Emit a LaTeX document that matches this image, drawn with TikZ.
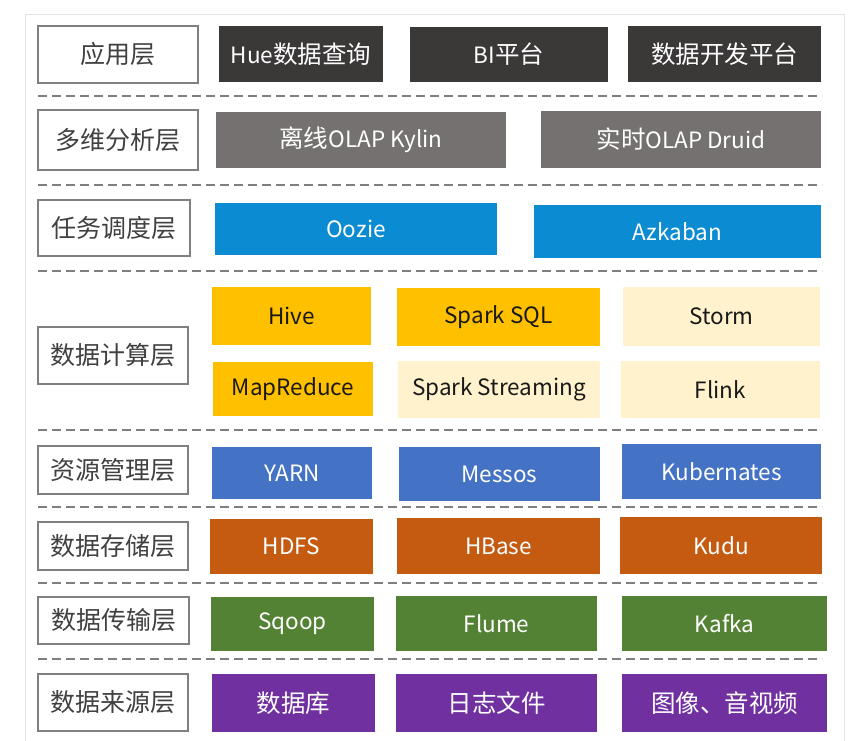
\documentclass[tikz,border=0pt]{standalone}
\usepackage{fontspec}
\setmainfont{Noto Sans CJK SC}
\definecolor{cdark}{HTML}{3B3838}
\definecolor{cgray}{HTML}{767171}
\definecolor{cblue}{HTML}{0A8BD2}
\definecolor{cgold}{HTML}{FFC000}
\definecolor{ccream}{HTML}{FFF2CC}
\definecolor{cmid}{HTML}{4472C4}
\definecolor{corange}{HTML}{C55A11}
\definecolor{cgreen}{HTML}{548235}
\definecolor{cpurple}{HTML}{7030A0}
\definecolor{lblgray}{HTML}{808080}
\definecolor{lbltext}{HTML}{404040}
\definecolor{dashgray}{HTML}{7F7F7F}
\definecolor{framegray}{HTML}{E3E3E3}
\newcommand\zhtxt[1]{{\fontsize{24.5}{28}\selectfont #1}}
\begin{document}
\begin{tikzpicture}[x=1pt,y=-1pt,
  box/.style={rectangle, inner sep=0pt, text=white, font=\fontsize{22.5}{27}\selectfont},
  lbl/.style={rectangle, inner sep=0pt, draw=lblgray, line width=1.6pt, fill=white, text=lbltext, font=\fontsize{25}{28}\selectfont},
  dk/.style={box, fill=cdark},
  gy/.style={box, fill=cgray},
  bl/.style={box, fill=cblue},
  gd/.style={box, fill=cgold, text=black!90},
  cr/.style={box, fill=ccream, text=black!90},
  md/.style={box, fill=cmid},
  og/.style={box, fill=corange},
  gn/.style={box, fill=cgreen},
  pp/.style={box, fill=cpurple},
  sep/.style={draw=dashgray, line width=2pt, dash pattern=on 9pt off 5pt}
]
\useasboundingbox[fill=white] (0,0) rectangle (849,741);
\draw[framegray, line width=1pt] (25,741) -- (25,15) -- (844,15) -- (844,741);

% Row 1
\node[lbl, minimum width=160pt, minimum height=57pt] (l1) at (118,54.5) {应用层};
\node[dk, minimum width=164pt, minimum height=56pt] (hue) at (301,54) {Hue\zhtxt{数据查询}};
\node[dk, minimum width=198pt, minimum height=55pt] (bi) at (509,54.5) {BI\zhtxt{平台}};
\node[dk, minimum width=193pt, minimum height=56pt] (dev) at (724.5,54) {\zhtxt{数据开发平台}};
\draw[sep] (38,96) -- (822,96);

% Row 2
\node[lbl, minimum width=160pt, minimum height=60pt] (l2) at (118,140) {多维分析层};
\node[gy, minimum width=290pt, minimum height=56pt] (kylin) at (361,140) {\zhtxt{离线}OLAP Kylin};
\node[gy, minimum width=280pt, minimum height=57pt] (druid) at (681,139.5) {\zhtxt{实时}OLAP Druid};
\draw[sep] (38,185) -- (822,185);

% Row 3
\node[lbl, minimum width=152pt, minimum height=56pt] (l3) at (114,228) {任务调度层};
\node[bl, minimum width=282pt, minimum height=52pt] (oozie) at (356,229) {Oozie};
\node[bl, minimum width=287pt, minimum height=53pt] (azk) at (677.5,231.5) {Azkaban};
\draw[sep] (38,271) -- (822,271);

% Row 4
\node[lbl, minimum width=150pt, minimum height=57pt] (l4) at (113,355.5) {数据计算层};
\node[gd, minimum width=159pt, minimum height=58pt] (hive) at (291.5,316) {Hive};
\node[gd, minimum width=203pt, minimum height=58pt] (ssql) at (498.5,317) {Spark SQL};
\node[cr, minimum width=197pt, minimum height=59pt] (storm) at (721.5,316.5) {Storm};
\node[gd, minimum width=160pt, minimum height=54pt] (mr) at (293,389) {MapReduce};
\node[cr, minimum width=202pt, minimum height=57pt] (sstr) at (499,389.5) {Spark Streaming};
\node[cr, minimum width=199pt, minimum height=57pt] (flink) at (720.5,389.5) {Flink};
\draw[sep] (38,430) -- (822,430);

% Row 5
\node[lbl, minimum width=150pt, minimum height=48pt] (l5) at (113,470) {资源管理层};
\node[md, minimum width=160pt, minimum height=52pt] (yarn) at (292,473) {YARN};
\node[md, minimum width=201pt, minimum height=54pt] (mes) at (499.5,474) {Messos};
\node[md, minimum width=199pt, minimum height=55pt] (kube) at (721.5,471.5) {Kubernates};
\draw[sep] (38,507) -- (822,507);

% Row 6
\node[lbl, minimum width=150pt, minimum height=48pt] (l6) at (113,546) {数据存储层};
\node[og, minimum width=163pt, minimum height=55pt] (hdfs) at (291.5,546.5) {HDFS};
\node[og, minimum width=203pt, minimum height=56pt] (hbase) at (498.5,546) {HBase};
\node[og, minimum width=202pt, minimum height=57pt] (kudu) at (721,545.5) {Kudu};
\draw[sep] (38,583) -- (822,583);

% Row 7
\node[lbl, minimum width=151pt, minimum height=47pt] (l7) at (113.5,620.5) {数据传输层};
\node[gn, minimum width=163pt, minimum height=54pt] (sqoop) at (292.5,624) {Sqoop};
\node[gn, minimum width=201pt, minimum height=55pt] (flume) at (496.5,623.5) {Flume};
\node[gn, minimum width=205pt, minimum height=55pt] (kafka) at (724.5,623.5) {Kafka};
\draw[sep] (38,659) -- (822,659);

% Row 8
\node[lbl, minimum width=150pt, minimum height=57pt] (l8) at (113,702.5) {数据来源层};
\node[pp, minimum width=163pt, minimum height=58pt] (db) at (293.5,703) {\zhtxt{数据库}};
\node[pp, minimum width=201pt, minimum height=58pt] (log) at (496.5,703) {\zhtxt{日志文件}};
\node[pp, minimum width=205pt, minimum height=58pt] (img) at (724.5,703) {\zhtxt{图像、音视频}};
\end{tikzpicture}
\end{document}
